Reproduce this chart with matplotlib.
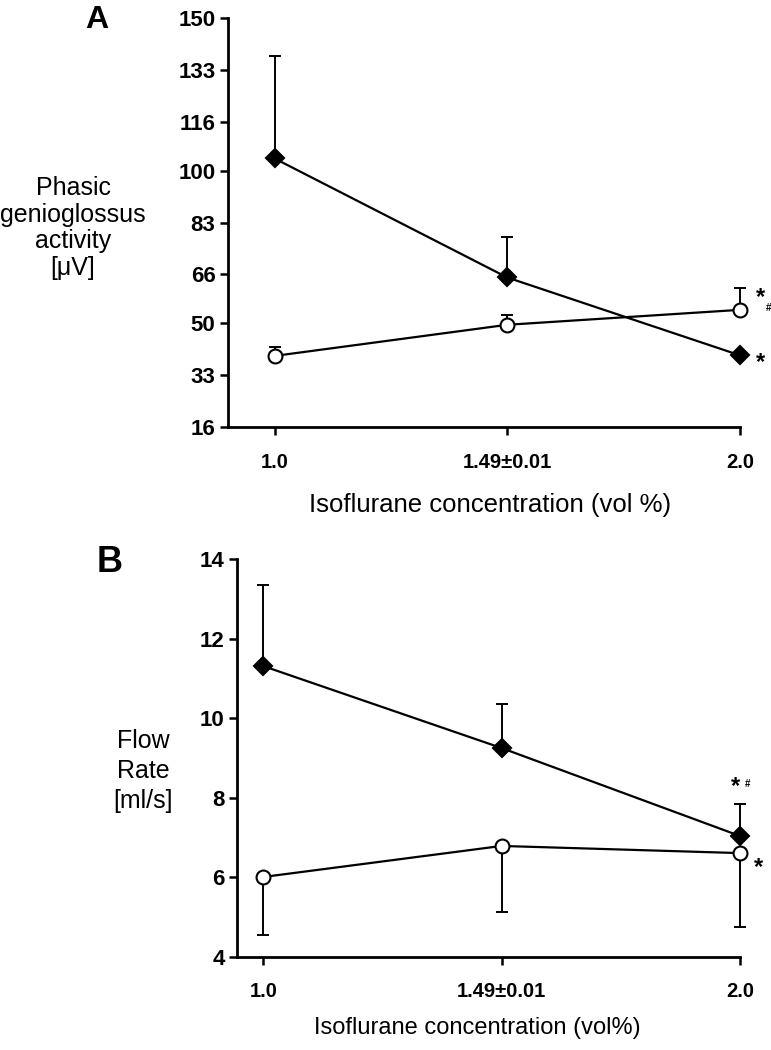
import matplotlib
matplotlib.use("Agg")
import matplotlib.pyplot as plt

plt.rcParams['font.family'] = ['Liberation Sans', 'DejaVu Sans']

# data
conc_labels = ['1.0', '1.49±0.01', '2.0']
xpos = [0, 1, 2]

# panel A: phasic genioglossus activity [uV]
gg_filled = [104, 65, 39.5]
gg_filled_err = [33.5, 13.4, 0.5]
gg_open = [39.3, 49.5, 54.4]
gg_open_err = [3.0, 3.3, 7.3]
gg_ticks = [16, 33, 50, 66, 83, 100, 116, 133, 150]

# panel B: flow rate [ml/s]
flow_filled = [11.31, 9.25, 7.04]
flow_filled_err = [2.04, 1.11, 0.8]
flow_open = [6.01, 6.79, 6.61]
flow_open_err = [1.46, 1.66, 1.86]
flow_ticks = [4, 6, 8, 10, 12, 14]

fig = plt.figure(figsize=(7.71, 10.5), dpi=100)


def style_axes(ax, yticks, xpad):
    for s in ['top', 'right']:
        ax.spines[s].set_visible(False)
    for s in ['left', 'bottom']:
        ax.spines[s].set_linewidth(2)
    ax.set_yticks(yticks)
    ax.set_yticklabels([str(t) for t in yticks])
    ax.set_xticks(xpos)
    ax.set_xticklabels(conc_labels)
    ax.tick_params(axis='y', length=6, width=1.8, pad=3, labelsize=16)
    ax.tick_params(axis='x', length=6, width=1.8, pad=xpad, labelsize=14.5)
    for lab in ax.get_xticklabels() + ax.get_yticklabels():
        lab.set_fontweight('bold')


def draw_series(ax, y, err, lower, marker, face, ms):
    yerr = [err, [0] * 3] if lower else [[0] * 3, err]
    ax.errorbar(xpos, y, yerr=yerr, fmt='none', ecolor='black', elinewidth=1.4,
                capsize=4.5, capthick=1.4, clip_on=False, zorder=2)
    ax.plot(xpos, y, color='black', lw=1.6, marker=marker, ms=ms,
            mfc=face, mec='black', mew=1.5, clip_on=False, zorder=3)


# ---- panel A
axA = fig.add_axes([0.2957, 0.5933, 0.664, 0.3895])
axA.set_xlim(-0.2, 2.0)
axA.set_ylim(16, 150)
draw_series(axA, gg_filled, gg_filled_err, False, 'D', 'black', 9)
draw_series(axA, gg_open, gg_open_err, False, 'o', 'white', 10)
style_axes(axA, gg_ticks, 13)
axA.text(2.07, gg_open[2] + 4, '*', fontsize=17, fontweight='bold', ha='left', va='center')
axA.text(2.11, gg_open[2] + 0.5, '#', fontsize=7, fontweight='bold', ha='left', va='center')
axA.text(2.07, gg_filled[2] - 2.5, '*', fontsize=17, fontweight='bold', ha='left', va='center')

fig.text(97 / 771, 1 - 20 / 1050, 'A', fontsize=23, fontweight='bold', ha='center', va='center')
fig.text(73 / 771, 1 - 228 / 1050, 'Phasic\ngenioglossus\nactivity\n[μV]', fontsize=18,
         ha='center', va='center', linespacing=1.15)
fig.text(490 / 771, 1 - 505 / 1050, 'Isoflurane concentration (vol %)', fontsize=18.5,
         ha='center', va='center')

# ---- panel B
axB = fig.add_axes([0.3074, 0.0886, 0.6524, 0.379])
axB.set_xlim(-0.11, 2.0)
axB.set_ylim(4, 14)
draw_series(axB, flow_filled, flow_filled_err, False, 'D', 'black', 9)
draw_series(axB, flow_open, flow_open_err, True, 'o', 'white', 10)
style_axes(axB, flow_ticks, 12)
axB.text(1.98, flow_filled[2] + flow_filled_err[2] + 0.45, '*', fontsize=17, fontweight='bold',
         ha='center', va='center')
axB.text(2.03, flow_filled[2] + flow_filled_err[2] + 0.5, '#', fontsize=7, fontweight='bold',
         ha='center', va='center')
axB.text(2.06, flow_open[2] - 0.35, '*', fontsize=17, fontweight='bold', ha='left', va='center')

fig.text(110 / 771, 1 - 563 / 1050, 'B', fontsize=26, fontweight='bold', ha='center', va='center')
fig.text(143 / 771, 1 - 771 / 1050, 'Flow\nRate\n[ml/s]', fontsize=18,
         ha='center', va='center', linespacing=1.32)
fig.text(477 / 771, 1 - 1028 / 1050, 'Isoflurane concentration (vol%)', fontsize=17,
         ha='center', va='center')

fig.savefig('out.png', dpi=100)
